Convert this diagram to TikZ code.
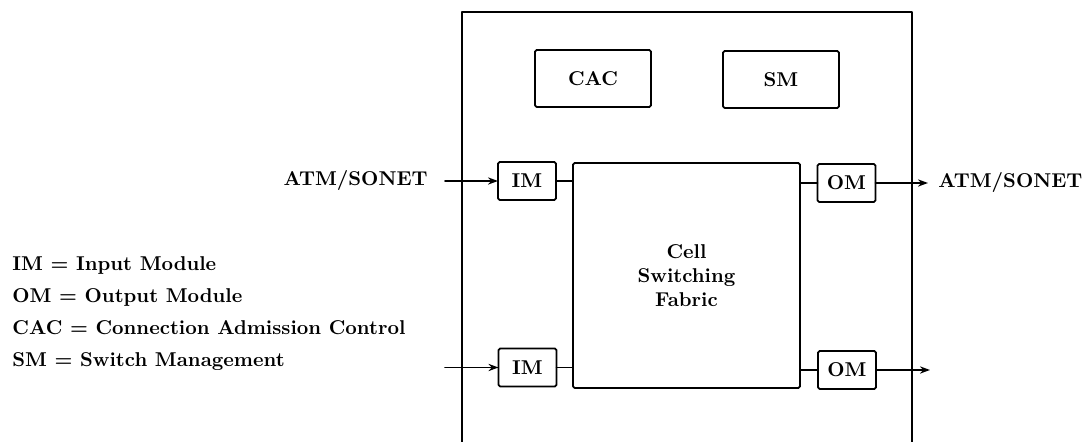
\documentclass[tikz,border=0pt]{standalone}
\usepackage{tikz}
\usetikzlibrary{arrows.meta,positioning}
\tikzset{
    every picture/.style={line cap=round,line join=round},
    modbox/.style={draw,line width=0.9pt,rounded corners=0.8pt,
      minimum width=29pt,minimum height=19pt,inner sep=1pt,outer sep=0pt,
      font=\bfseries,align=center},
    ctrlbox/.style={modbox,minimum width=58pt,minimum height=28.5pt},
    fabricbox/.style={modbox,minimum width=113.5pt,minimum height=112.5pt},
    linkline/.style={line width=0.9pt},
    linkarrow/.style={linkline,-{Stealth[length=5pt,width=3.6pt]}},
    portlabel/.style={font=\bfseries,inner ysep=1pt},
    legendtext/.style={anchor=base west,font=\bfseries,inner sep=0pt}
}
\begin{document}
\begin{tikzpicture}[x=0.5pt,y=-0.5pt]
  \useasboundingbox (0,0) rectangle (1088,442);
  % switch housing (open at the bottom)
  \draw[linkline] (462,442) |- (912,12) -- (912,442);
  \node[ctrlbox] (cac) at (593,78.5) {CAC};
  \node[ctrlbox] (sm) at (781,79.5) {SM};
  \node[fabricbox] (fab) at (686.5,275.5) {Cell\\Switching\\Fabric};
  \node[modbox] (im1) at (527,181) {IM};
  \node[modbox] (im2) at (527.5,367.5) {IM};
  \node[modbox] (om1) at (846.5,183) {OM};
  \node[modbox] (om2) at (847,370) {OM};
  % links
  \node[portlabel,anchor=east,inner xsep=8.5pt] (inlbl) at (445,181) {ATM/SONET};
  \node[portlabel,anchor=west,inner xsep=5pt] (outlbl) at (928,183) {ATM/SONET};
  \coordinate (in2) at (445,367.5);
  \coordinate (out2) at (930,370);
  \draw[linkarrow] (inlbl.east) -- (im1.west);
  \draw[linkarrow] (in2) -- (im2.west);
  \draw[linkarrow] (om1.east) -- (outlbl.west);
  \draw[linkarrow] (om2.east) -- (out2);
  \draw[linkline] (im1.east) -- (im1.east -| fab.west);
  \draw[linkline] (im2.east) -- (im2.east -| fab.west);
  \draw[linkline] (om1.west -| fab.east) -- (om1.west);
  \draw[linkline] (om2.west -| fab.east) -- (om2.west);
  % legend
  \node[legendtext] (lgim) at (12,271) {IM = Input Module};
  \node[legendtext] (lgom) at (12,303) {OM = Output Module};
  \node[legendtext] (lgcac) at (12,335) {CAC = Connection Admission Control};
  \node[legendtext] (lgsm) at (12,367) {SM = Switch Management};
\end{tikzpicture}
\end{document}
